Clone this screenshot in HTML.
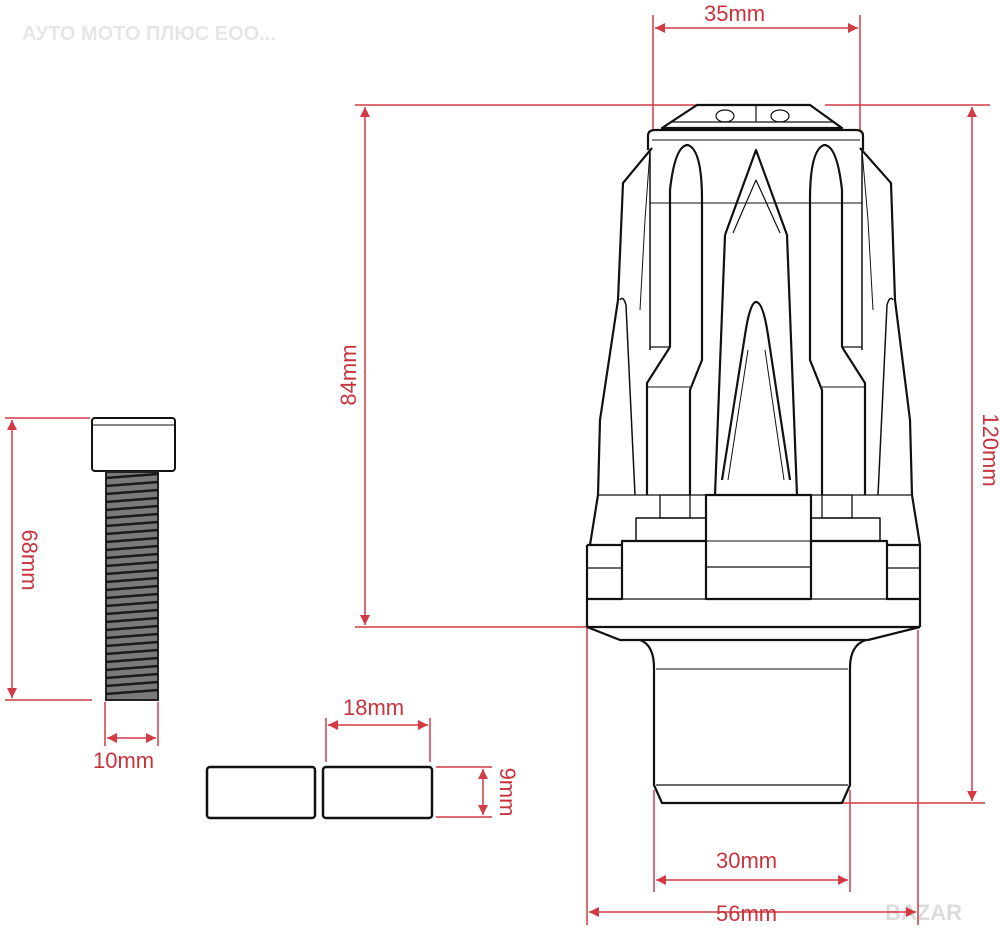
<!DOCTYPE html>
<html><head><meta charset="utf-8"><style>
html,body{margin:0;padding:0;background:#fff;}
svg{display:block;}
text{font-family:"Liberation Sans",sans-serif;}
</style></head><body>
<svg width="1000" height="938" viewBox="0 0 1000 938" xmlns="http://www.w3.org/2000/svg">
<defs>
<marker id="a" viewBox="0 0 10 10" refX="10" refY="5" markerWidth="18" markerHeight="10" orient="auto-start-reverse" markerUnits="userSpaceOnUse"><path d="M0,0L10,5L0,10z" fill="#d23a44"/></marker>
</defs>
<text x="22" y="40" font-size="20" fill="#e6e6e6" font-weight="bold">АУТО МОТО ПЛЮС ЕОО...</text>
<text x="885" y="920" font-size="22" fill="#dcdcdc" font-weight="bold">BAZAR</text>

<g stroke="#d23a44" stroke-width="1.5" fill="none">
<line x1="653" y1="15" x2="653" y2="130"/><line x1="860" y1="15" x2="860" y2="130"/>
<line x1="655" y1="28" x2="858" y2="28" marker-start="url(#a)" marker-end="url(#a)"/>
<line x1="355" y1="105" x2="700" y2="105"/><line x1="355" y1="627" x2="590" y2="627"/>
<line x1="365" y1="107" x2="365" y2="625" marker-start="url(#a)" marker-end="url(#a)"/>
<line x1="825" y1="105" x2="990" y2="105"/><line x1="842" y1="803" x2="985" y2="803"/>
<line x1="972" y1="107" x2="972" y2="801" marker-start="url(#a)" marker-end="url(#a)"/>
<line x1="587" y1="627" x2="587" y2="925"/><line x1="918" y1="630" x2="918" y2="925"/>
<line x1="589" y1="912" x2="916" y2="912" marker-start="url(#a)" marker-end="url(#a)"/>
<line x1="654" y1="790" x2="654" y2="892"/><line x1="850" y1="790" x2="850" y2="892"/>
<line x1="656" y1="880" x2="848" y2="880" marker-start="url(#a)" marker-end="url(#a)"/>
<line x1="5" y1="418" x2="90" y2="418"/><line x1="5" y1="700" x2="92" y2="700"/>
<line x1="12" y1="420" x2="12" y2="698" marker-start="url(#a)" marker-end="url(#a)"/>
<line x1="105" y1="702" x2="105" y2="746"/><line x1="158" y1="702" x2="158" y2="746"/>
<line x1="107" y1="738" x2="156" y2="738" marker-start="url(#a)" marker-end="url(#a)"/>
<line x1="326" y1="718" x2="326" y2="762"/><line x1="430" y1="718" x2="430" y2="762"/>
<line x1="328" y1="725" x2="428" y2="725" marker-start="url(#a)" marker-end="url(#a)"/>
<line x1="436" y1="767" x2="492" y2="767"/><line x1="436" y1="817" x2="492" y2="817"/>
<line x1="483" y1="769" x2="483" y2="815" marker-start="url(#a)" marker-end="url(#a)"/>
</g>
<g fill="#c8333d" font-size="22">
<text x="704" y="21">35mm</text>
<text x="716" y="868">30mm</text>
<text x="716" y="921">56mm</text>
<text x="343" y="715">18mm</text>
<text x="93" y="768">10mm</text>
<text transform="translate(356,375) rotate(-90)" text-anchor="middle">84mm</text>
<text transform="translate(983,450) rotate(90)" text-anchor="middle">120mm</text>
<text transform="translate(22,560) rotate(90)" text-anchor="middle">68mm</text>
<text transform="translate(500,792) rotate(90)" text-anchor="middle">9mm</text>
</g>

<g stroke="#111" fill="none" stroke-width="2">
<rect x="92" y="418" width="83" height="53" rx="3"/>
<line x1="93" y1="425" x2="174" y2="425" stroke-width="1"/>
<rect x="106" y="472" width="52" height="228" fill="#7a7a7a" stroke="#222"/>
</g>
<g stroke="#1a1a1a" stroke-width="2.5">
<path d="M106,478 L158,474 M106,486 L158,482 M106,494 L158,490 M106,502 L158,498 M106,510 L158,506 M106,518 L158,514 M106,526 L158,522 M106,534 L158,530 M106,542 L158,538 M106,550 L158,546 M106,558 L158,554 M106,566 L158,562 M106,574 L158,570 M106,582 L158,578 M106,590 L158,586 M106,598 L158,594 M106,606 L158,602 M106,614 L158,610 M106,622 L158,618 M106,630 L158,626 M106,638 L158,634 M106,646 L158,642 M106,654 L158,650 M106,662 L158,658 M106,670 L158,666 M106,678 L158,674 M106,686 L158,682 M106,694 L158,690"/>
</g>

<g stroke="#111" stroke-width="2.5" fill="none">
<rect x="207" y="767" width="108" height="51" rx="3"/>
<rect x="323" y="767" width="109" height="51" rx="3"/>
</g>

<g stroke="#111" stroke-width="2.2" fill="none" stroke-linejoin="round">
<path d="M662,128 L697,105 L810,105 L842,128 Z"/>
<line x1="670" y1="122" x2="835" y2="122" stroke-width="1.2"/>
<ellipse cx="725" cy="116" rx="9" ry="6" stroke-width="1.2"/><ellipse cx="780" cy="116" rx="9" ry="6" stroke-width="1.2"/>
<line x1="756" y1="106" x2="756" y2="122" stroke-width="1.2"/>
<path d="M648,150 L648,136 Q648,130 655,130 L856,130 Q863,130 863,136 L863,150"/>
<line x1="652" y1="140" x2="860" y2="140" stroke-width="1"/>
<path d="M652,148 L623,183 L618,300 L612,340 L600,420 L598,495 L590,545"/>
<path d="M860,148 L891,183 L895,300 L900,340 L910,420 L912,495 L920,545"/>
<path d="M650,150 L650,350 M862,150 L862,350" stroke-width="1.5"/>
<path d="M650,150 L645,220 L640,310 M862,150 L868,220 L873,310" stroke-width="1"/>
<path d="M620,300 Q623,295 626,305 L630,390 L635,495 M893,300 Q890,295 887,305 L883,390 L878,495" stroke-width="1.5"/>
<path d="M670,347 L670,190 Q675,145 688,145 Q702,150 702,200 L702,360 L690,390 L690,495"/>
<path d="M670,347 L647,383 L647,495"/>
<path d="M842,347 L842,190 Q837,145 824,145 Q810,150 810,200 L810,360 L822,390 L822,495"/>
<path d="M842,347 L865,383 L865,495"/>
<path d="M725,235 L756,150 L787,235 L797,495 M725,235 L715,495"/>
<path d="M733,233 L756,180 L780,233" stroke-width="1.2"/>
<path d="M745,335 Q750,302 756,302 Q763,302 768,335 L790,480 M745,335 L722,480"/>
<path d="M748,350 L728,480 M765,350 L784,480" stroke-width="1"/>
<line x1="650" y1="203" x2="862" y2="203" stroke-width="1"/>
<line x1="650" y1="347" x2="670" y2="347" stroke-width="1.3"/><line x1="842" y1="347" x2="862" y2="347" stroke-width="1.3"/>
<line x1="646" y1="387" x2="690" y2="387" stroke-width="1"/><line x1="822" y1="387" x2="866" y2="387" stroke-width="1"/>
<rect x="706" y="495" width="105" height="104"/>
<line x1="706" y1="541" x2="811" y2="541" stroke-width="1"/>
<line x1="706" y1="567" x2="811" y2="567" stroke-width="1.3"/>
<path d="M598,495 L706,495 M811,495 L912,495" stroke-width="1.3"/>
<rect x="660" y="495" width="30" height="23" stroke-width="1.3"/>
<rect x="822" y="495" width="30" height="23" stroke-width="1.3"/>
<path d="M636,541 L636,518 L706,518 M811,518 L880,518 L880,541" stroke-width="1.5"/>
<path d="M587,545 L587,627 M587,599 L622,599 L622,541 L706,541 M811,541 L887,541 L887,599 L920,599 M920,545 L920,627 M587,545 L622,545 M887,545 L920,545"/>
<line x1="587" y1="568" x2="622" y2="568" stroke-width="1.3"/><line x1="887" y1="568" x2="920" y2="568" stroke-width="1.3"/>
<line x1="587" y1="599" x2="920" y2="599" stroke-width="1.3"/>
<line x1="587" y1="627" x2="920" y2="627"/>
<path d="M587,627 L620,640 L868,640 L920,627"/>
<path d="M640,640 Q654,645 654,668 L654,785 L662,803 L842,803 L850,785 L850,668 Q850,645 866,640"/>
<line x1="656" y1="669" x2="848" y2="669" stroke-width="1"/>
<line x1="656" y1="785" x2="848" y2="785" stroke-width="1.3"/>
</g>
</svg>
</body></html>
